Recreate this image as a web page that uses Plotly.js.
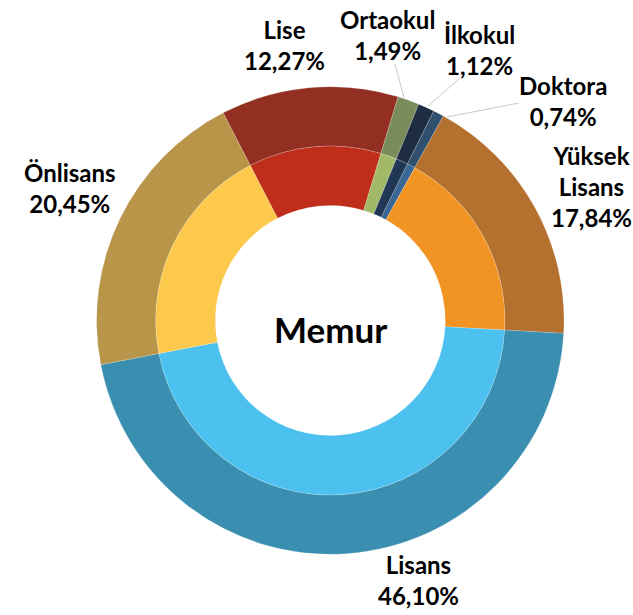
<!DOCTYPE html>
<html><head><meta charset="utf-8">
<script src="https://cdn.plot.ly/plotly-3.0.1.min.js"></script>
<style>html,body{margin:0;padding:0;background:#fff}#chart{width:633px;height:615px}</style>
</head><body><div id="chart"></div>
<script>
// ---- data ----
const categories = ['Lise', 'Ortaokul', 'İlkokul', 'Doktora', 'Yüksek Lisans', 'Lisans', 'Önlisans'];
const shares = [12.27, 1.49, 1.12, 0.74, 17.84, 46.10, 20.45];
const labelNames = ['Lise', 'Ortaokul', 'İlkokul', 'Doktora', 'Yüksek<br>Lisans', 'Lisans', 'Önlisans'];
const centerTitle = 'Memur';

// ---- styles ----
const outerColors = ['#922F22', '#7A8C5A', '#1E2D42', '#30506F', '#B4702E', '#3A8EB0', '#B9954A'];
const innerColors = ['#BF2E1A', '#A2BA68', '#213756', '#3A6694', '#F29424', '#4CC1EF', '#FDC94D'];

const W = 633, H = 615;
const cx = 330.3, cy = 320.5;           // ring centre (px)
const rOuter = 233.7, rMid = 174.5, rHole = 115;
const rotationDeg = -27.3;

// label centres (px) in the order of categories
const labelPos = [[284, 45], [387, 35], [480, 50], [563, 101], [591, 186], [418, 580], [70, 188]];
// leader lines (px): [x0,y0,x1,y1] for the small slices
const leaders = [[395, 64, 404, 98], [460, 78, 428, 106], [519, 103, 447, 117]];

const px = x => x / W;
const py = y => 1 - y / H;
function dom(r) {
  return { x: [px(cx - r), px(cx + r)], y: [py(cy + r), py(cy - r)] };
}

const fmt = v => v.toFixed(2).replace('.', ',') + '%';

const common = {
  type: 'pie', values: shares, labels: categories, sort: false,
  direction: 'clockwise', rotation: rotationDeg, textinfo: 'none',
  hoverinfo: 'label+percent', showlegend: false
};

const edge = { color: 'rgba(255,255,255,0.25)', width: 0.7 };
const outer = Object.assign({}, common, {
  hole: rMid / rOuter, domain: dom(rOuter),
  marker: { colors: outerColors, line: edge }
});
const inner = Object.assign({}, common, {
  hole: rHole / rMid, domain: dom(rMid),
  marker: { colors: innerColors, line: edge }
});

const labelFont = { family: 'Lato, "Open Sans", sans-serif', size: 24, color: '#000000', weight: 'bold' };

const annotations = categories.map((c, i) => ({
  xref: 'paper', yref: 'paper', x: px(labelPos[i][0]), y: py(labelPos[i][1]),
  xanchor: 'center', yanchor: 'middle', showarrow: false, align: 'center',
  text: labelNames[i] + '<br>' + fmt(shares[i]), font: labelFont
}));
annotations.push({
  xref: 'paper', yref: 'paper', x: px(330.8), y: py(329), xanchor: 'center', yanchor: 'middle',
  showarrow: false, text: centerTitle,
  font: { family: 'Lato, "Open Sans", sans-serif', size: 35, color: '#000000', weight: 'bold' }
});

const shapes = leaders.map(l => ({
  type: 'line', xref: 'paper', yref: 'paper',
  x0: px(l[0]), y0: py(l[1]), x1: px(l[2]), y1: py(l[3]),
  line: { color: '#c9c9c9', width: 1 }
}));

const layout = {
  width: W, height: H, margin: { l: 0, r: 0, t: 0, b: 0 },
  paper_bgcolor: '#ffffff', plot_bgcolor: '#ffffff', showlegend: false,
  annotations: annotations, shapes: shapes
};

Plotly.newPlot('chart', [outer, inner], layout, { displayModeBar: false, staticPlot: true });
</script>
</body></html>
